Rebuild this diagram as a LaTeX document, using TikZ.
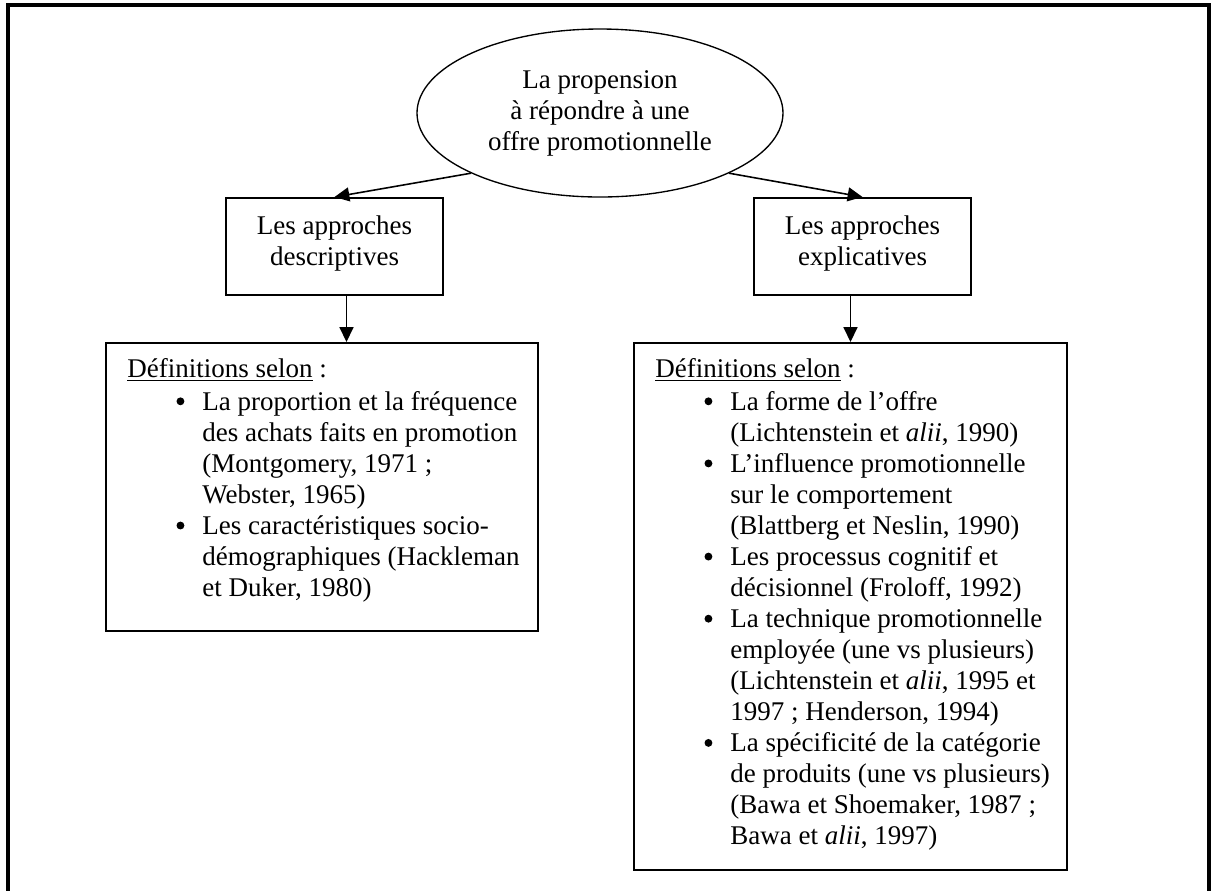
\documentclass[tikz,border=0pt]{standalone}
\usepackage{fontspec}
\setmainfont{Liberation Serif}
\usetikzlibrary{shapes.geometric,arrows.meta,calc}

% drawing unit
\newdimen\pu \pu=0.4444pt

% round list bullet
\newcommand\dotbullet{\tikz[baseline=-3.9pt]\fill (0,0) circle (1.75pt);}

% bulleted list used inside the definition boxes
\newcommand\bulletlabel[1]{#1\hfil}
\newenvironment{deflist}{%
  \begin{list}{\dotbullet}{%
    \setlength\leftmargin{33.3pt}\setlength\labelwidth{11.5pt}%
    \setlength\labelsep{0pt}\setlength\itemindent{0pt}%
    \setlength\itemsep{0pt}\setlength\parsep{0pt}%
    \setlength\topsep{0.9pt}\setlength\partopsep{0pt}%
    \let\makelabel\bulletlabel}}%
  {\end{list}}

\begin{document}
\begin{tikzpicture}[x=\pu,y=-\pu,
  txt/.style={font=\fontsize{12}{13.8}\selectfont},
  oval/.style={txt, ellipse, draw, line width=0.6pt, inner sep=0pt,
    minimum width=366\pu, minimum height=168\pu, align=center},
  headbox/.style={txt, draw, line width=0.9pt, inner sep=0pt,
    minimum width=217\pu, minimum height=97\pu, align=center,
    text depth=5pt},
  defbox/.style={draw, line width=0.9pt, inner sep=0pt},
  deftext/.style={txt, inner sep=0pt, anchor=base west},
  arr/.style={line width=0.7pt, -{Triangle[length=6.6pt,width=6.2pt]}}]

\useasboundingbox (0,0) rectangle (1212,890);

% outer frame (open at the bottom)
\draw[line width=1.4pt, line join=miter] (8,893) -- (8,5) -- (1209,5) -- (1209,893);

% top concept
\node[oval] (el) at (600,113) {La propension\\à répondre à une\\offre promotionnelle};

% the two approaches
\node[headbox] (tl) at (334.5,246.5) {Les approches\\descriptives};
\node[headbox] (tr) at (862.5,246.5) {Les approches\\explicatives};

% definition boxes
\node[defbox, minimum width=432\pu, minimum height=288\pu] (dl) at (322,487) {};
\node[defbox, minimum width=433\pu, minimum height=527\pu] (dr) at (850.5,606.5) {};

\node[deftext] (dltext) at (127,377) {\begin{minipage}[t]{250pt}
\fontsize{12}{13.8}\selectfont
\underline{Définitions selon} :
\begin{deflist}
\item La proportion et la fréquence\\des achats faits en promotion\\(Montgomery, 1971 ;\\Webster, 1965)
\item Les caractéristiques socio-\\démographiques (Hackleman\\et Duker, 1980)
\end{deflist}
\end{minipage}};

\node[deftext] (drtext) at (655,377) {\begin{minipage}[t]{250pt}
\fontsize{12}{13.8}\selectfont
\underline{Définitions selon} :
\begin{deflist}
\item La forme de l’offre\\(Lichtenstein et \textit{alii}, 1990)
\item L’influence promotionnelle\\sur le comportement\\(Blattberg et Neslin, 1990)
\item Les processus cognitif et\\décisionnel (Froloff, 1992)
\item La technique promotionnelle\\employée (une vs plusieurs)\\(Lichtenstein et \textit{alii}, 1995 et\\1997 ; Henderson, 1994)
\item La spécificité de la catégorie\\de produits (une vs plusieurs)\\(Bawa et Shoemaker, 1987 ;\\Bawa et \textit{alii}, 1997)
\end{deflist}
\end{minipage}};

% connectors
\draw[arr] (el.205) -- (tl.north);
\draw[arr] (el.335) -- (tr.north);
\coordinate (ldown) at ($(tl.south)+(12,0)$);
\draw[arr] (ldown) -- (ldown |- dl.north);
\draw[arr] (dr.north |- tr.south) -- (dr.north);
\end{tikzpicture}
\end{document}
